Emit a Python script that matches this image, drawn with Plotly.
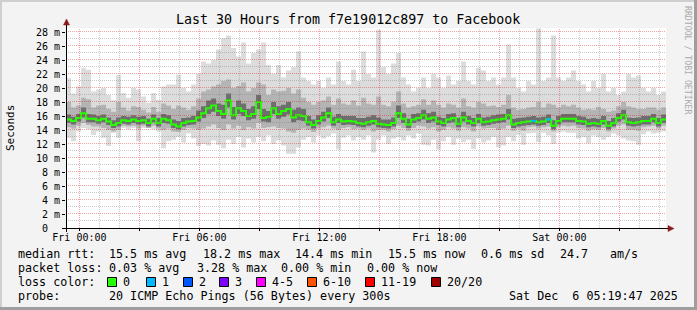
import plotly.graph_objects as go
from datetime import datetime, timedelta

# ---------------- data (ms), 15-minute bins starting Thu 23:20 ----------------
median = [15.5, 15.3, 15.7, 16.4, 15.6, 15.6, 15.4, 15.6, 15.2, 14.7, 15.0, 15.4, 15.3, 15.5, 15.3, 15.4, 15.0, 15.6, 15.0, 15.6, 15.4,
          14.8, 14.5, 15.0, 15.2, 15.3, 15.8, 16.4, 17.1, 17.5, 16.7, 16.3, 18.2, 16.1, 17.1, 16.7, 16.0, 16.3, 18.0, 15.7, 15.9,
          17.1, 16.3, 16.7, 17.0, 15.8, 16.1, 16.0, 15.1, 14.7, 15.3, 15.8, 16.4, 15.1, 15.5, 15.2, 15.3, 15.2, 15.0, 14.9, 15.1,
          15.3, 14.9, 14.8, 14.7, 15.0, 16.4, 15.6, 14.8, 15.5, 15.7, 16.1, 15.6, 15.8, 15.2, 15.0, 15.5, 15.7, 14.9, 15.8, 15.3,
          15.0, 15.6, 15.1, 15.2, 15.4, 15.5, 15.6, 16.1, 14.8, 15.0, 15.1, 15.2, 15.3, 15.1, 15.2, 15.5, 14.6, 15.3, 15.6, 15.6,
          15.6, 15.3, 15.2, 14.9, 15.0, 14.9, 15.3, 14.6, 15.0, 15.7, 16.1, 15.1, 15.0, 15.1, 15.3, 15.3, 15.6, 15.0, 15.5]
rtt_max = [21.4, 19.2, 20.2, 22.9, 22.6, 19.5, 19.8, 20.0, 19.0, 18.3, 21.9, 19.3, 18.6, 20.0, 19.8, 18.8, 17.9, 19.3, 18.3, 20.2, 20.5,
           20.5, 21.9, 20.0, 19.5, 20.5, 22.0, 23.8, 23.5, 24.0, 25.5, 27.1, 27.5, 25.7, 24.5, 26.5, 23.5, 25.0, 25.5, 26.5, 23.3,
           22.0, 23.3, 21.5, 22.5, 23.0, 25.2, 21.5, 21.0, 20.5, 21.0, 20.0, 21.5, 20.5, 23.8, 21.0, 20.5, 22.6, 21.0, 25.2, 22.0,
           21.5, 28.3, 23.0, 22.0, 23.5, 25.0, 21.5, 20.5, 19.5, 20.0, 21.5, 20.0, 22.0, 21.5, 20.0, 21.8, 20.5, 21.0, 23.8, 21.0,
           20.5, 22.9, 22.5, 21.0, 21.5, 20.5, 21.5, 26.2, 21.5, 20.0, 19.5, 21.0, 20.5, 28.5, 21.0, 21.5, 27.5, 21.5, 21.0, 21.5,
           22.5, 21.0, 20.5, 19.5, 21.0, 20.0, 22.0, 19.5, 20.0, 19.0, 19.5, 22.0, 21.5, 21.8, 20.0, 19.5, 20.0, 19.0, 19.5]
rtt_min = [12.9, 12.4, 13.8, 14.3, 14.1, 13.3, 13.8, 12.9, 11.7, 13.6, 12.9, 14.3, 14.1, 14.3, 12.4, 14.3, 14.3, 14.1, 13.8, 11.4, 12.4,
           12.6, 13.0, 12.2, 13.5, 12.8, 11.7, 12.0, 11.8, 12.5, 11.9, 11.4, 12.6, 12.0, 13.0, 11.5, 12.8, 12.2, 13.0, 12.4, 13.2,
           12.0, 12.5, 11.8, 10.6, 10.6, 11.5, 12.6, 13.0, 12.2, 13.2, 12.8, 13.1, 13.5, 11.2, 12.9, 13.2, 12.5, 13.0, 12.6, 13.2,
           10.8, 12.6, 13.2, 12.0, 12.8, 13.0, 12.5, 13.2, 12.8, 13.5, 11.9, 11.8, 12.6, 11.2, 12.4, 13.0, 11.9, 12.8, 12.3, 12.6,
           11.3, 12.8, 12.2, 12.5, 13.0, 11.5, 11.8, 13.0, 12.4, 13.3, 11.9, 13.5, 13.6, 12.3, 13.6, 13.2, 12.0, 13.6, 13.8, 13.6,
           13.6, 12.8, 13.0, 12.1, 13.2, 13.0, 12.6, 13.0, 13.5, 13.2, 12.8, 12.5, 12.4, 11.9, 13.4, 13.8, 13.5, 13.6, 13.8]
hi_mid = [18.0, 17.2, 17.5, 18.6, 18.4, 17.2, 17.5, 17.6, 17.0, 16.6, 18.0, 17.2, 16.8, 17.4, 17.3, 16.9, 16.5, 17.3, 16.6, 17.8, 17.5,
          17.0, 17.5, 17.2, 16.9, 17.4, 18.5, 19.5, 19.8, 20.2, 20.5, 21.0, 21.2, 20.0, 20.3, 20.8, 19.5, 20.0, 20.8, 20.5, 19.0,
          19.8, 19.5, 19.6, 20.0, 19.2, 19.8, 18.6, 18.0, 17.6, 18.0, 18.2, 18.8, 17.6, 18.5, 17.8, 17.6, 18.2, 17.5, 18.6, 17.8,
          17.6, 18.8, 17.6, 17.4, 18.0, 19.5, 17.8, 17.2, 17.4, 17.6, 18.4, 17.6, 18.2, 17.6, 17.2, 17.8, 17.6, 17.2, 18.5, 17.4,
          17.2, 18.0, 17.8, 17.4, 17.5, 17.3, 17.6, 19.0, 17.2, 16.9, 17.0, 17.2, 17.3, 18.0, 17.2, 17.8, 17.6, 17.2, 17.6, 17.4,
          17.6, 17.2, 16.9, 17.0, 16.9, 17.3, 17.0, 16.6, 16.8, 17.4, 18.0, 17.4, 17.2, 17.0, 17.0, 17.2, 17.2, 16.9, 17.2]
lo_mid = [14.4, 14.2, 14.6, 15.0, 14.7, 14.5, 14.5, 14.3, 14.0, 13.8, 14.0, 14.6, 14.5, 14.6, 14.2, 14.6, 14.3, 14.6, 14.2, 14.0, 14.2,
          13.8, 13.7, 14.0, 14.3, 14.2, 14.0, 14.2, 14.5, 14.8, 14.3, 14.0, 14.8, 14.2, 14.6, 14.0, 14.4, 14.2, 15.0, 14.3, 14.4,
          14.5, 14.3, 14.2, 13.8, 13.6, 14.0, 14.2, 14.0, 13.7, 14.2, 14.4, 14.6, 14.2, 14.0, 14.3, 14.4, 14.1, 14.2, 14.0, 14.2,
          13.8, 14.0, 14.0, 13.8, 14.1, 14.6, 14.3, 13.9, 14.3, 14.6, 14.5, 14.2, 14.4, 13.8, 14.0, 14.4, 14.2, 13.9, 14.4, 14.2,
          13.8, 14.5, 14.2, 14.3, 14.3, 14.0, 14.2, 14.6, 13.9, 14.2, 13.9, 14.4, 14.5, 14.2, 14.4, 14.5, 13.8, 14.4, 14.6, 14.5,
          14.6, 14.3, 14.2, 13.9, 14.1, 14.0, 14.3, 13.8, 14.2, 14.6, 14.8, 14.0, 14.0, 13.9, 14.4, 14.5, 14.6, 14.2, 14.6]
hi_in = [16.2, 15.9, 16.3, 17.2, 16.3, 16.2, 16.0, 16.2, 15.8, 15.4, 15.8, 16.0, 15.9, 16.1, 15.9, 16.0, 15.6, 16.2, 15.7, 16.3, 16.1,
         15.5, 15.3, 15.7, 15.8, 16.0, 16.8, 17.4, 18.2, 18.5, 17.8, 17.6, 19.2, 17.3, 18.2, 17.8, 17.0, 17.4, 19.0, 17.0, 16.7,
         18.0, 17.4, 17.6, 18.0, 16.9, 17.2, 17.0, 16.0, 15.5, 16.1, 16.6, 17.2, 15.9, 16.3, 16.0, 16.0, 16.0, 15.7, 15.7, 15.9,
         16.1, 15.8, 15.5, 15.5, 15.8, 17.5, 16.4, 15.6, 16.3, 16.4, 16.9, 16.4, 16.6, 15.9, 15.7, 16.3, 16.4, 15.7, 16.6, 16.0,
         15.7, 16.3, 15.8, 15.9, 16.1, 16.2, 16.3, 17.0, 15.6, 15.7, 15.8, 15.9, 16.0, 15.8, 15.9, 16.2, 15.4, 16.0, 16.3, 16.3,
         16.3, 16.0, 15.9, 15.6, 15.7, 15.6, 16.0, 15.3, 15.7, 16.4, 16.9, 15.8, 15.7, 15.8, 16.0, 16.0, 16.3, 15.7, 16.2]
lo_in = [15.0, 14.8, 15.2, 15.8, 15.1, 15.1, 14.9, 15.1, 14.7, 14.3, 14.5, 14.9, 14.8, 15.0, 14.8, 14.9, 14.5, 15.1, 14.5, 15.0, 14.9,
         14.3, 14.1, 14.5, 14.7, 14.8, 15.2, 15.7, 16.3, 16.6, 16.0, 15.6, 17.2, 15.5, 16.3, 16.0, 15.4, 15.6, 17.0, 15.2, 15.1,
         16.3, 15.6, 15.9, 16.2, 15.1, 15.4, 15.3, 14.6, 14.2, 14.8, 15.2, 15.7, 14.6, 15.0, 14.7, 14.8, 14.7, 14.5, 14.4, 14.6,
         14.8, 14.4, 14.3, 14.2, 14.5, 15.7, 15.0, 14.3, 15.0, 15.2, 15.5, 15.0, 15.2, 14.7, 14.5, 15.0, 15.1, 14.4, 15.2, 14.8,
         14.5, 15.0, 14.6, 14.7, 14.9, 15.0, 15.1, 15.5, 14.3, 14.5, 14.6, 14.7, 14.8, 14.6, 14.7, 15.0, 14.1, 14.8, 15.1, 15.1,
         15.1, 14.8, 14.7, 14.4, 14.5, 14.4, 14.8, 14.1, 14.5, 15.2, 15.5, 14.6, 14.5, 14.6, 14.8, 14.8, 15.1, 14.5, 15.0]
# lost pings (out of 20) per bin
loss = [0] * 120
loss[93] = 1
loss[96] = 1

loss_labels = ["0", "1", "2", "3", "4-5", "6-10", "11-19", "20/20"]
loss_colors = ["#26ff00", "#00b8ff", "#0059ff", "#7e00ff", "#ff00ff", "#ff5500", "#ff0000", "#a10000"]
rtt_stats = ["15.5 ms avg", "18.2 ms max", "14.4 ms min", "15.5 ms now", "0.6 ms sd", "24.7", "am/s"]
loss_stats = ["0.03 % avg", "3.28 % max", "0.00 % min", "0.00 % now"]
y_ticks = list(range(0, 29, 2))
y_minor = list(range(1, 29, 2))

# ---------------- geometry ----------------
W, H = 697, 310
L, R, T, B = 66, 666, 28, 228   # plot area in pixels
YMAX = 200 / 7


def X(p):
    return (p - L) / (R - L)


def Y(p):
    return (B - p) / (B - T)


start = datetime(2025, 12, 4, 23, 20)
step = timedelta(minutes=15)
n = len(median)
times = [start + step * i for i in range(n + 1)]
x0 = datetime(2025, 12, 4, 23, 19, 47)
x1 = datetime(2025, 12, 6, 5, 19, 47)
span = (x1 - x0).total_seconds()


def tpx(t):
    return L + (t - x0).total_seconds() / span * (R - L)


def vpx(v):
    return B - v / YMAX * (B - T)


def ext(a):
    return list(a) + [a[-1]]


fig = go.Figure()


def band(lo, hi, color):
    fig.add_trace(go.Scatter(x=times, y=ext(lo), mode="lines", line=dict(width=0, shape="hv"),
                             hoverinfo="skip", showlegend=False))
    fig.add_trace(go.Scatter(x=times, y=ext(hi), mode="lines", line=dict(width=0, shape="hv"),
                             fill="tonexty", fillcolor=color, hoverinfo="skip", showlegend=False))


band(rtt_min, rtt_max, "#dcdcdc")
band(lo_mid, hi_mid, "#b4b4b4")
band(lo_in, hi_in, "#6e6e6e")

fig.add_trace(go.Scatter(x=times, y=ext(median), mode="lines",
                         line=dict(width=2, shape="hv", color=loss_colors[0]),
                         hoverinfo="skip", showlegend=False))
for i, lv in enumerate(loss):
    if lv > 0:
        fig.add_trace(go.Scatter(x=[times[i], times[i + 1]], y=[median[i], median[i]], mode="lines",
                                 line=dict(width=2, color=loss_colors[min(lv, 3)]),
                                 hoverinfo="skip", showlegend=False))

shapes = []
# grid (drawn above the smoke like rrdtool), snapped to pixel centres
minor_col = "rgba(120,120,120,0.40)"
major_col = "rgba(220,0,0,0.36)"
for v in y_minor + y_ticks[1:]:
    p = int(vpx(v)) - 0.5
    col = major_col if v % 2 == 0 else minor_col
    shapes.append(dict(type="line", xref="paper", yref="paper", x0=0, x1=1, y0=Y(p), y1=Y(p),
                       line=dict(color=col, width=1, dash="1px,1px"), layer="above"))
t = datetime(2025, 12, 5, 0, 0)
while t < x1:
    p = int(tpx(t)) + 0.5
    col = major_col if t.hour % 3 == 0 else minor_col
    shapes.append(dict(type="line", xref="paper", yref="paper", x0=X(p), x1=X(p), y0=0, y1=1,
                       line=dict(color=col, width=1, dash="1px,1px"), layer="above"))
    t += timedelta(hours=1)

# axis lines, extensions and arrows
arrow_col = "#8b1a1a"
shapes.append(dict(type="line", xref="paper", yref="paper", x0=X(62), x1=X(669), y0=Y(228.5), y1=Y(228.5),
                   line=dict(color="#000", width=1), layer="above"))
shapes.append(dict(type="line", xref="paper", yref="paper", x0=X(66.5), x1=X(66.5), y0=Y(232), y1=Y(24),
                   line=dict(color="#000", width=1), layer="above"))
shapes.append(dict(type="path", xref="paper", yref="paper",
                   path=f"M {X(668)} {Y(225.5)} L {X(674)} {Y(228.5)} L {X(668)} {Y(231.5)} Z",
                   fillcolor=arrow_col, line=dict(color=arrow_col, width=0.5), layer="above"))
shapes.append(dict(type="path", xref="paper", yref="paper",
                   path=f"M {X(63.5)} {Y(25)} L {X(66.5)} {Y(19)} L {X(69.5)} {Y(25)} Z",
                   fillcolor=arrow_col, line=dict(color=arrow_col, width=0.5), layer="above"))

# image frame (3D shade)
shapes.append(dict(type="line", xref="paper", yref="paper", x0=X(0), x1=X(W), y0=Y(1), y1=Y(1),
                   line=dict(color="#cfcfcf", width=2)))
shapes.append(dict(type="line", xref="paper", yref="paper", x0=X(1), x1=X(1), y0=Y(0), y1=Y(H),
                   line=dict(color="#cfcfcf", width=2)))
shapes.append(dict(type="line", xref="paper", yref="paper", x0=X(0), x1=X(W), y0=Y(H - 1.5), y1=Y(H - 1.5),
                   line=dict(color="#9e9e9e", width=3)))
shapes.append(dict(type="line", xref="paper", yref="paper", x0=X(W - 1.5), x1=X(W - 1.5), y0=Y(0), y1=Y(H),
                   line=dict(color="#9e9e9e", width=3)))

# legend colour boxes
box_x = [107, 146, 183, 219, 256, 307, 365, 431]
for bx, c in zip(box_x, loss_colors):
    shapes.append(dict(type="rect", xref="paper", yref="paper", x0=X(bx + 0.5), x1=X(bx + 9.5),
                       y0=Y(286.5), y1=Y(277.5), fillcolor=c, line=dict(color="#000", width=1)))

MONO = "DejaVu Sans Mono"
ann = []


def text(s, x, y, size=11.7, anchor="left", color="#000", angle=0):
    ann.append(dict(text=s.replace(" ", "\u00a0"), x=X(x), y=Y(y), xref="paper", yref="paper",
                    xanchor=anchor, yanchor="middle", showarrow=False, textangle=angle,
                    font=dict(family=MONO, size=size, color=color)))


text("Last 30 Hours from f7e19012c897 to Facebook", 347.5, 19, size=13.3, anchor="center")
text("RRDTOOL / TOBI OETIKER", 688, 60, size=8.2, anchor="center", color="#aaaaaa", angle=90)
text("Seconds", 10, 128, size=11, anchor="center", angle=-90)

text("median rtt:", 16, 254)
for s, xx in zip(rtt_stats, [107, 201, 293, 386, 479, 558, 608]):
    text(s, xx, 254)
text("packet loss:", 16, 268)
for s, xx in zip(loss_stats, [107, 195, 279, 365]):
    text(s, xx, 268)
text("loss color:", 16, 282)
for s, bx in zip(loss_labels, box_x):
    text(s, bx + 13.5, 282)
text("probe:", 16, 296)
text("20 ICMP Echo Pings (56 Bytes) every 300s", 107, 296)
text("Sat Dec  6 05:19:47 2025", 680, 296, anchor="right")

xt = [datetime(2025, 12, 5, 0, 0) + timedelta(hours=3 * k) for k in range(10)]
xt_text = [d.strftime("%a %H:%M") if d.hour % 6 == 0 else "" for d in xt]
yt_text = [("%d m" % v) if v else "0\u00a0\u00a0" for v in y_ticks]

fig.update_layout(
    width=W, height=H,
    margin=dict(l=L, r=W - R, t=T, b=H - B),
    paper_bgcolor="#f3f3f3", plot_bgcolor="#ffffff",
    showlegend=False,
    shapes=shapes, annotations=ann,
    xaxis=dict(range=[x0, x1], type="date", tickmode="array", tickvals=xt, ticktext=xt_text,
               showgrid=False, zeroline=False, showline=False,
               ticks="outside", ticklen=2, tickcolor="#000", ticklabelstandoff=-2,
               tickfont=dict(family=MONO, size=10, color="#000")),
    yaxis=dict(range=[0, YMAX], tickmode="array", tickvals=y_ticks, ticktext=yt_text,
               showgrid=False, zeroline=False, showline=False,
               ticks="outside", ticklen=3, tickcolor="#000",
               tickfont=dict(family=MONO, size=10, color="#000")),
)

fig.write_html("out.html")
